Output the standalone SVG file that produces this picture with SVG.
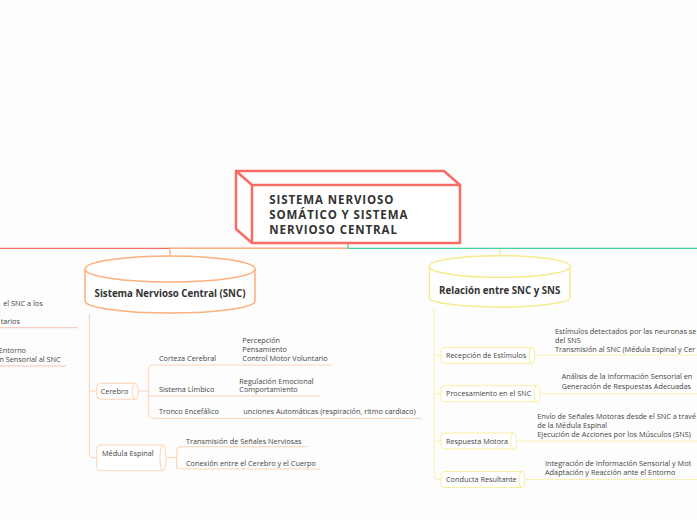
<svg xmlns="http://www.w3.org/2000/svg" width="697" height="520" viewBox="0 0 697 520">
<style>
text{font-family:"Open Sans","Liberation Sans",sans-serif;fill:#454545;font-size:7.3px}
.t{font-weight:bold;fill:#333;font-size:9.7px}
.main{font-weight:bold;fill:#333;font-size:11.5px;letter-spacing:0.9px}
.ln{fill:none;stroke-width:1}
.red{stroke:#f96b63;stroke-width:1.3;fill:none}
.org{stroke:#fcb07b;stroke-width:1.3;fill:none}
.grn{stroke:#46d09c;stroke-width:1.3;fill:none}
.yel{stroke:#f4e88c;stroke-width:1.3;fill:none}
.lo{stroke:#fcd3b6}
.ly{stroke:#f9f0b8}
.lp{stroke:#f9c0bb}
.cylo{fill:#fff;stroke:#fcb07b;stroke-width:1.5}
.cyly{fill:#fff;stroke:#f6eb8e;stroke-width:1.5}
.bo{fill:#fff;stroke:#fcd3b6;stroke-width:1}
.by{fill:#fff;stroke:#f8ef9f;stroke-width:1}
</style>
<rect width="697" height="520" fill="#fdfdfd"/>
<g id="connectors">
<path class="red" d="M348,248.3 H-5"/>
<path class="org" d="M348,248.3 H170 V256"/>
<path class="yel" d="M500,248.3 V256"/>
<path class="grn" d="M348,243 V248.3 H702"/>
<path class="ln lo" d="M89.3,314 V454 Q89.3,457.7 93,457.7 H96.7"/>
<path class="ln lo" d="M89.3,391 H96.7"/>
<path class="ln lo" d="M138.3,391 H148.3"/>
<path class="ln lo" d="M148.3,369 Q148.3,365 152.3,365 H331.7"/>
<path class="ln lo" d="M148.3,369 V414.3 Q148.3,418.3 152.3,418.3 H421.7"/>
<path class="ln lo" d="M148.3,396 H319.3"/>
<path class="ln lo" d="M166,457.7 H176.7"/>
<path class="ln lo" d="M176.7,469 V450.7 Q176.7,446.7 180.7,446.7 H307.7"/>
<path class="ln lo" d="M176.7,465 Q176.7,469 180.7,469 H321"/>
<path class="ln lp" d="M-5,327.7 H77.3"/>
<path class="ln lp" d="M-5,366 H65.7"/>
<path class="ln ly" d="M434,308 V475.5 Q434,479.5 438,479.5 H441"/>
<path class="ln ly" d="M434,355.3 H441"/>
<path class="ln ly" d="M434,393.7 H441"/>
<path class="ln ly" d="M434,441 H441"/>
<path class="ln ly" d="M535,355.3 H700"/>
<path class="ln ly" d="M540,393.7 H700"/>
<path class="ln ly" d="M516.7,441 H700"/>
<path class="ln ly" d="M525,479.5 H700"/>
</g>
<g id="main">
<path d="M236,171 H444 L460,185 V243 H252 L236,229 Z" fill="#fff" stroke="#f96b63" stroke-width="2.5" stroke-linejoin="round"/>
<path d="M236,171 L252,185 H460 M252,185 V243" fill="none" stroke="#f96b63" stroke-width="2.5" stroke-linejoin="round"/>
<text class="main" x="269.3" y="204">SISTEMA NERVIOSO</text>
<text class="main" x="269.3" y="219">SOMÁTICO Y SISTEMA</text>
<text class="main" x="269.3" y="234">NERVIOSO CENTRAL</text>
</g>
<g id="snc">
<path class="cylo" d="M85,269 V301 A85,12 0 0 0 255,301 V269 A85,13 0 0 0 85,269 Z"/>
<path class="cylo" fill="none" d="M85,269 A85,13 0 0 0 255,269"/>
<text class="t" x="170" y="297" text-anchor="middle">Sistema Nervioso Central (SNC)</text>
</g>
<g id="cerebro">
<path class="bo" d="M100.7,383.3 H135.3 A3,8 0 0 1 135.3,399.3 H100.7 A4,4 0 0 1 96.7,395.3 V387.3 A4,4 0 0 1 100.7,383.3 Z"/>
<path class="bo" fill="none" d="M135.3,383.3 A3,8 0 0 0 135.3,399.3"/>
<text x="100.7" y="393.7">Cerebro</text>
</g>
<g id="corteza">
<text x="159" y="361">Corteza Cerebral</text>
<text x="242.3" y="343">Percepción</text>
<text x="242.3" y="352">Pensamiento</text>
<text x="242.3" y="361">Control Motor Voluntario</text>
</g>
<g id="limbico">
<text x="159" y="392">Sistema Límbico</text>
<text x="239.3" y="383.5">Regulación Emocional</text>
<text x="239.3" y="392">Comportamiento</text>
</g>
<g id="tronco">
<text x="159" y="414">Tronco Encefálico</text>
<text x="243.3" y="414">unciones Automáticas (respiración, ritmo cardiaco)</text>
</g>
<g id="medula">
<path class="bo" d="M100.7,445 H163 A3,12.85 0 0 1 163,470.7 H100.7 A4,4 0 0 1 96.7,466.7 V449 A4,4 0 0 1 100.7,445 Z"/>
<path class="bo" fill="none" d="M163,445 A3,12.85 0 0 0 163,470.7"/>
<text x="102" y="455.5">Médula Espinal</text>
</g>
<g id="medula-items">
<text x="186" y="443.5">Transmisión de Señales Nerviosas</text>
<text x="186" y="466">Conexión entre el Cerebro y el Cuerpo</text>
</g>
<g id="left-items">
<text x="42.7" y="306" text-anchor="end">el SNC a los</text>
<text x="20" y="324" text-anchor="end">tarios</text>
<text x="26" y="353" text-anchor="end">Entorno</text>
<text x="60.7" y="361.5" text-anchor="end">n Sensorial al SNC</text>
</g>
<g id="relacion">
<path class="cyly" d="M429.3,266.5 V297.5 A70.35,9.5 0 0 0 570,297.5 V266.5 A70.35,10.8 0 0 0 429.3,266.5 Z"/>
<path class="cyly" fill="none" d="M429.3,266.5 A70.35,10.8 0 0 0 570,266.5"/>
<text class="t" x="499.7" y="294" text-anchor="middle">Relación entre SNC y SNS</text>
</g>
<g id="recepcion">
<path class="by" d="M445,347.3 H532 A3,8 0 0 1 532,363.3 H445 A4,4 0 0 1 441,359.3 V351.3 A4,4 0 0 1 445,347.3 Z"/>
<path class="by" fill="none" d="M532,347.3 A3,8 0 0 0 532,363.3"/>
<text x="446" y="357.5">Recepción de Estímulos</text>
<text x="555" y="333.5">Estímulos detectados por las neuronas se</text>
<text x="555" y="342.5">del SNS</text>
<text x="555" y="351.5">Transmisión al SNC (Médula Espinal y Cer</text>
</g>
<g id="procesamiento">
<path class="by" d="M445,385.7 H537 A3,8 0 0 1 537,401.7 H445 A4,4 0 0 1 441,397.7 V389.7 A4,4 0 0 1 445,385.7 Z"/>
<path class="by" fill="none" d="M537,385.7 A3,8 0 0 0 537,401.7"/>
<text x="446" y="396">Procesamiento en el SNC</text>
<text x="561.7" y="379">Análisis de la Información Sensorial en</text>
<text x="561.7" y="388.5">Generación de Respuestas Adecuadas</text>
</g>
<g id="respuesta">
<path class="by" d="M445,433 H513.7 A3,8 0 0 1 513.7,449 H445 A4,4 0 0 1 441,445 V437 A4,4 0 0 1 445,433 Z"/>
<path class="by" fill="none" d="M513.7,433 A3,8 0 0 0 513.7,449"/>
<text x="446" y="443.5">Respuesta Motora</text>
<text x="537.3" y="418.7">Envío de Señales Motoras desde el SNC a travé</text>
<text x="537.3" y="427.7">de la Médula Espinal</text>
<text x="537.3" y="437">Ejecución de Acciones por los Músculos (SNS)</text>
</g>
<g id="conducta">
<path class="by" d="M445,471.5 H522 A3,8 0 0 1 522,487.5 H445 A4,4 0 0 1 441,483.5 V475.5 A4,4 0 0 1 445,471.5 Z"/>
<path class="by" fill="none" d="M522,471.5 A3,8 0 0 0 522,487.5"/>
<text x="446" y="482">Conducta Resultante</text>
<text x="545" y="466">Integración de Información Sensorial y Mot</text>
<text x="545" y="475">Adaptación y Reacción ante el Entorno</text>
</g>
</svg>
